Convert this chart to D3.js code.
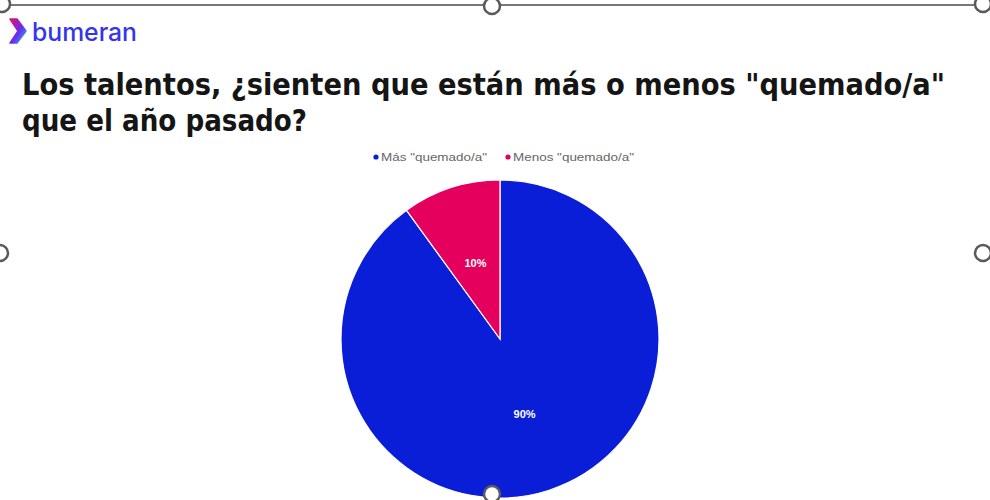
<!DOCTYPE html>
<html>
<head>
<meta charset="utf-8">
<script src="https://cdn.jsdelivr.net/npm/d3@7"></script>
<style>
  body { margin: 0; background: #fff; }
  svg { display: block; }
</style>
</head>
<body>
<div id="container"></div>
<script>
const w = 990;
const h = 500;

// data
const categories = ['Más "quemado/a"', 'Menos "quemado/a"'];
const values = [90, 10];
const colors = ['#0a1ed8', '#e4005c'];
const titleLines = ['Los talentos, ¿sienten que están más o menos "quemado/a"', 'que el año pasado?'];

const svg = d3.select('#container')
    .append('svg')
    .attr('width', w)
    .attr('height', h);

// logo
const defs = svg.append('defs');
const grad = defs.append('linearGradient')
    .attr('id', 'chev')
    .attr('x1', 0).attr('y1', 0).attr('x2', 1).attr('y2', 1);
grad.append('stop').attr('offset', '0%').attr('stop-color', '#e8106a');
grad.append('stop').attr('offset', '55%').attr('stop-color', '#6a2cf0');
grad.append('stop').attr('offset', '100%').attr('stop-color', '#22c8e8');

svg.append('path')
    .attr('d', 'M10,19 L17,19 L26,31 L17,43 L10,43 L18,31 Z')
    .attr('fill', 'url(#chev)')
    .attr('stroke', 'url(#chev)')
    .attr('stroke-width', 1.5)
    .attr('stroke-linejoin', 'round');

svg.append('text')
    .attr('x', 32)
    .attr('y', 41)
    .attr('font-family', 'Inter, "Noto Sans", sans-serif')
    .attr('font-size', 25)
    .attr('font-weight', 500)
    .attr('fill', '#3434ee')
    .attr('textLength', 105)
    .attr('lengthAdjust', 'spacingAndGlyphs')
    .text('bumeran');

// title
svg.selectAll('text.title')
    .data(titleLines)
    .enter()
    .append('text')
    .attr('class', 'title')
    .attr('x', 22)
    .attr('y', (d, i) => 95 + i * 36)
    .attr('font-family', '"DejaVu Sans Condensed", "DejaVu Sans", sans-serif')
    .attr('font-size', 30)
    .attr('font-weight', 'bold')
    .attr('fill', '#151515')
    .attr('textLength', (d, i) => i === 0 ? 923 : 285)
    .attr('lengthAdjust', 'spacingAndGlyphs')
    .text(d => d);

// legend
const legendX = d3.scaleOrdinal().domain(categories).range([376, 508]);
const legendLen = d3.scaleOrdinal().domain(categories).range([106, 121]);
const legend = svg.append('g').attr('id', 'legend');
const items = legend.selectAll('g')
    .data(categories)
    .enter()
    .append('g')
    .attr('transform', d => `translate(${legendX(d)},157)`);
items.append('circle')
    .attr('r', 2.6)
    .attr('fill', (d, i) => colors[i]);
items.append('text')
    .attr('x', 5)
    .attr('y', 4)
    .attr('font-family', '"Liberation Sans", Arial, sans-serif')
    .attr('font-size', 11.5)
    .attr('fill', '#666')
    .attr('textLength', d => legendLen(d))
    .attr('lengthAdjust', 'spacingAndGlyphs')
    .text(d => d);

// pie
const cx = 500, cy = 339, r = 159;
const pie = d3.pie().sort(null);
const arcs = pie(values);
const arc = d3.arc().innerRadius(0).outerRadius(r);
const labelArc = d3.arc().innerRadius(r * 0.5).outerRadius(r * 0.5);

const g = svg.append('g').attr('transform', `translate(${cx},${cy})`);
g.selectAll('path')
    .data(arcs)
    .enter()
    .append('path')
    .attr('d', arc)
    .attr('fill', (d, i) => colors[i])
    .attr('stroke', '#fff')
    .attr('stroke-width', 1.2);

g.selectAll('text')
    .data(arcs)
    .enter()
    .append('text')
    .attr('transform', d => `translate(${labelArc.centroid(d)})`)
    .attr('dy', '0.35em')
    .attr('text-anchor', 'middle')
    .attr('font-family', '"Liberation Sans", Arial, sans-serif')
    .attr('font-size', 11)
    .attr('font-weight', 'bold')
    .attr('fill', '#fff')
    .text(d => d.data + '%');

// selection frame + handles
const frame = svg.append('g');
frame.append('line')
    .attr('x1', 0).attr('x2', 983)
    .attr('y1', 5).attr('y2', 5)
    .attr('stroke', '#777').attr('stroke-width', 2);
const handles = [[2, 4], [492, 6], [983, 4], [0, 253], [983, 253], [492, 494]];
frame.selectAll('circle')
    .data(handles)
    .enter()
    .append('circle')
    .attr('cx', d => d[0])
    .attr('cy', d => d[1])
    .attr('r', 8)
    .attr('fill', '#fff')
    .attr('stroke', '#5a5a5a')
    .attr('stroke-width', 2.5);
</script>
</body>
</html>
